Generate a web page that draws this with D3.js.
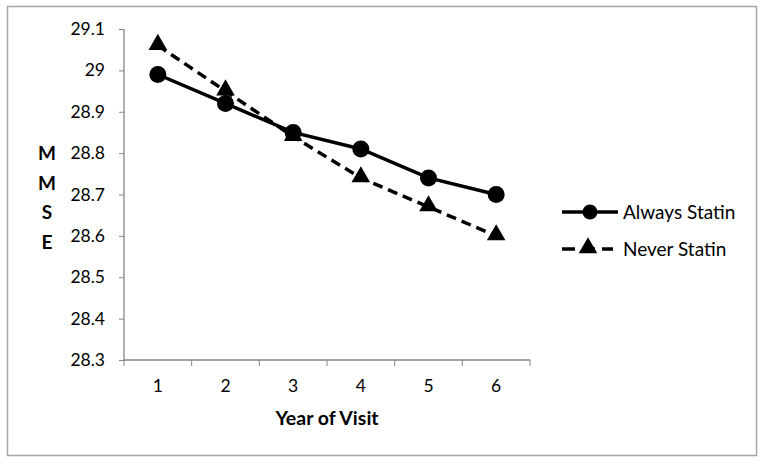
<!DOCTYPE html>
<html>
<head>
<meta charset="utf-8">
<script src="https://cdn.jsdelivr.net/npm/d3@7"></script>
<style>
  body{margin:0;background:#fff;}
  text{font-family:Lato,"Open Sans",sans-serif;fill:#000;}
</style>
</head>
<body>
<script>
var years = [1, 2, 3, 4, 5, 6];
var alwaysStatin = [28.99, 28.92, 28.85, 28.81, 28.74, 28.70];
var neverStatin = [29.06, 28.95, 28.84, 28.74, 28.67, 28.60];
var yTicks = [28.3, 28.4, 28.5, 28.6, 28.7, 28.8, 28.9, 29, 29.1];
var seriesNames = ["Always Statin", "Never Statin"];

var W = 764, H = 463;
var margin = {top: 29, left: 124, right: 234, bottom: 103};
var axisColor = "#868686";

var svg = d3.select("body").append("svg").attr("width", W).attr("height", H);

// outer frame
svg.append("rect").attr("x", 7.5).attr("y", 6.5).attr("width", 749).attr("height", 449)
  .attr("fill", "none").attr("stroke", "#a6a6a6").attr("stroke-width", 1.5);

var x = d3.scaleBand().domain(years).range([margin.left, W - margin.right]);
var y = d3.scaleLinear().domain([28.3, 29.1]).range([H - margin.bottom, margin.top]);

// y axis
var gy = svg.append("g").attr("transform", "translate(" + margin.left + ",0)")
  .call(d3.axisLeft(y).tickValues(yTicks).tickSize(5).tickPadding(14).tickFormat(function(d){ return d3.format("")(+d.toFixed(1)); }));
// x axis
var gx = svg.append("g").attr("transform", "translate(0," + y(28.3) + ")")
  .call(d3.axisBottom(x).tickSize(0).tickPadding(20));
// x axis boundary ticks
gx.selectAll(".bt").data(d3.range(years.length + 1)).enter().append("line")
  .attr("x1", function(i){ return margin.left + i * x.bandwidth(); })
  .attr("x2", function(i){ return margin.left + i * x.bandwidth(); })
  .attr("y1", 0).attr("y2", 6).attr("stroke", axisColor);

[gx, gy].forEach(function(g){
  g.select(".domain").attr("stroke", axisColor).attr("stroke-width", 1.3);
  g.selectAll(".tick line").attr("stroke", axisColor);
  g.selectAll("text").style("font-size", "17.5px").attr("fill", "#000");
});
gx.select(".domain").attr("d", "M" + margin.left + ",0H" + (W - margin.right));
gy.select(".domain").attr("d", "M0," + y(29.1) + "V" + y(28.3));

// axis titles
svg.append("text").attr("x", x.range()[0] + (x.range()[1] - x.range()[0]) / 2).attr("y", 425)
  .attr("text-anchor", "middle").style("font-size", "19.5px").style("font-weight", "bold").text("Year of Visit");
var yl = svg.append("text").attr("x", 47).attr("text-anchor", "middle")
  .style("font-size", "19px").style("font-weight", "bold");
["M", "M", "S", "E"].forEach(function(c, i){
  yl.append("tspan").attr("x", 47).attr("y", 160 + i * 29.5).text(c);
});

var cx = function(d, i){ return x(years[i]) + x.bandwidth() / 2; };
var line = d3.line().x(cx).y(function(d){ return y(d); });
var tri = d3.symbol().type(d3.symbolTriangle).size(150);

// Always Statin
svg.append("path").datum(alwaysStatin).attr("d", line).attr("fill", "none")
  .attr("stroke", "#000").attr("stroke-width", 3.5);
// Never Statin
svg.append("path").datum(neverStatin).attr("d", line).attr("fill", "none")
  .attr("stroke", "#000").attr("stroke-width", 3.5).attr("stroke-dasharray", "10,6");

svg.selectAll(".tri").data(neverStatin).enter().append("path")
  .attr("d", tri).attr("transform", function(d, i){ return "translate(" + cx(d, i) + "," + (y(d) - 1) + ")"; })
  .attr("fill", "#000");
svg.selectAll(".dot").data(alwaysStatin).enter().append("circle")
  .attr("cx", cx).attr("cy", function(d){ return y(d); }).attr("r", 8.5).attr("fill", "#000");

// legend
var leg = svg.append("g").attr("transform", "translate(562,0)");
seriesNames.forEach(function(name, i){
  var ly = 212 + i * 37;
  leg.append("line").attr("x1", 0).attr("x2", i === 1 ? 51 : 56).attr("y1", ly).attr("y2", ly)
    .attr("stroke", "#000").attr("stroke-width", 3.5)
    .attr("stroke-dasharray", i === 1 ? "13,7" : null);
  if (i === 0) leg.append("circle").attr("cx", 28).attr("cy", ly).attr("r", 7.5).attr("fill", "#000");
  else leg.append("path").attr("d", tri).attr("transform", "translate(26," + (ly - 1) + ")").attr("fill", "#000");
  leg.append("text").attr("x", 61).attr("y", ly + 7).style("font-size", "19px").text(name);
});
</script>
</body>
</html>
